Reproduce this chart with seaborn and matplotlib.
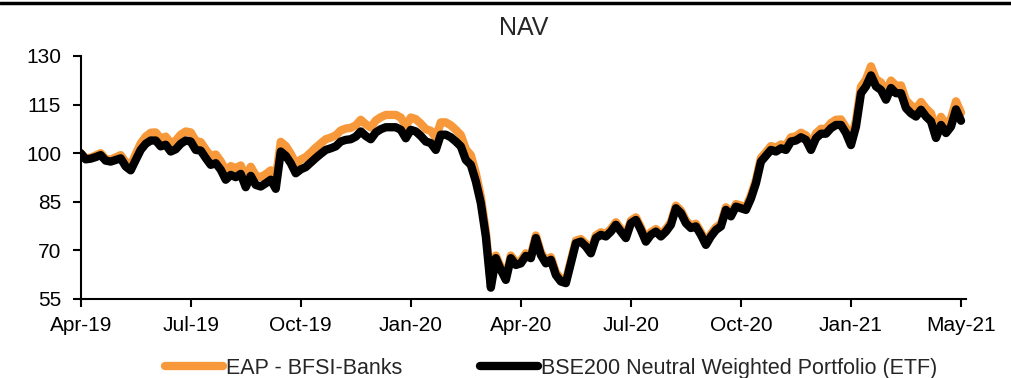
import numpy as np
import pandas as pd
import matplotlib
matplotlib.use("Agg")
import matplotlib.pyplot as plt
from matplotlib.lines import Line2D
import seaborn as sns

# === data (trading-day index) ===
tick_labels = ["Apr-19", "Jul-19", "Oct-19", "Jan-20", "Apr-20",
               "Jul-20", "Oct-20", "Jan-21", "May-21"]

eap_banks = [
    100.0, 98.4, 98.6, 99.3, 100.0, 98.2, 98.0, 98.7, 99.4, 97.2,
    96.2, 99.7, 103.0, 105.1, 106.3, 106.4, 104.5, 105.1, 103.1, 103.9,
    105.7, 106.7, 106.4, 103.8, 103.4, 101.1, 99.1, 99.6, 97.5, 94.6,
    96.0, 95.4, 96.2, 92.5, 95.8, 93.1, 92.6, 93.5, 94.7, 92.0,
    103.5, 102.2, 99.8, 96.7, 98.0, 98.8, 100.2, 101.7, 103.0, 104.3,
    104.8, 105.5, 107.0, 107.6, 107.8, 108.6, 110.3, 108.9, 107.9, 110.1,
    111.1, 111.8, 111.8, 111.8, 111.0, 108.4, 111.0, 110.5, 109.1, 107.4,
    106.9, 104.8, 109.5, 109.5, 108.6, 107.2, 105.6, 101.2, 99.4, 93.8,
    86.6, 75.8, 59.5, 68.4, 64.8, 61.7, 68.4, 66.3, 66.8, 69.1,
    68.4, 74.6, 69.4, 66.8, 67.9, 63.2, 61.2, 60.7, 66.8, 73.0,
    73.5, 72.0, 69.9, 74.6, 75.6, 75.1, 76.6, 78.7, 76.6, 74.6,
    79.2, 80.2, 77.1, 73.5, 75.6, 76.6, 75.1, 76.6, 78.7, 83.8,
    82.3, 79.2, 77.7, 78.2, 75.6, 72.5, 75.1, 77.1, 78.2, 83.3,
    81.3, 84.3, 83.8, 83.3, 87.0, 91.7, 98.5, 100.3, 102.2, 101.7,
    102.7, 102.3, 104.9, 105.2, 106.3, 105.5, 102.4, 106.1, 107.5, 107.5,
    109.3, 110.3, 110.4, 107.9, 104.3, 110.0, 120.5, 122.7, 126.8, 122.8,
    121.8, 118.8, 122.4, 120.8, 120.9, 116.3, 114.7, 113.7, 115.8, 113.8,
    112.3, 107.2, 111.2, 108.7, 110.7, 116.0, 112.5,
]

bse200_etf = [
    100.0, 98.1, 98.3, 98.8, 99.4, 97.7, 97.4, 97.9, 98.4, 95.9,
    94.7, 97.9, 101.0, 102.9, 103.9, 103.9, 102.1, 102.6, 100.5, 101.2,
    102.9, 103.9, 103.6, 101.0, 100.8, 98.5, 96.4, 96.9, 94.9, 91.8,
    93.3, 92.6, 93.6, 89.5, 93.0, 90.2, 89.7, 90.7, 91.8, 89.0,
    100.5, 99.2, 96.9, 93.8, 95.0, 95.7, 97.1, 98.5, 99.8, 101.0,
    101.5, 102.1, 103.6, 104.1, 104.3, 105.1, 106.7, 105.3, 104.3, 106.4,
    107.4, 108.0, 108.0, 108.0, 107.2, 104.6, 107.2, 106.7, 105.3, 103.6,
    103.1, 101.0, 105.7, 105.7, 104.9, 103.6, 102.1, 97.9, 96.4, 91.3,
    84.6, 74.3, 58.5, 67.6, 64.0, 60.9, 67.6, 65.5, 66.0, 68.3,
    67.6, 73.8, 68.6, 66.0, 67.1, 62.4, 60.4, 59.9, 66.0, 72.2,
    72.7, 71.2, 69.1, 73.8, 74.8, 74.3, 75.8, 77.9, 75.8, 73.8,
    78.4, 79.4, 76.3, 72.7, 74.8, 75.8, 74.3, 75.8, 77.9, 83.0,
    81.5, 78.4, 76.9, 77.4, 74.8, 71.7, 74.3, 76.3, 77.4, 82.5,
    80.5, 83.5, 83.0, 82.5, 86.0, 90.7, 97.4, 99.2, 101.0, 100.5,
    101.5, 101.0, 103.6, 103.9, 104.9, 104.1, 101.0, 104.6, 106.0, 106.0,
    107.7, 108.7, 108.7, 106.2, 102.5, 108.2, 118.5, 120.6, 124.0, 120.6,
    119.5, 116.5, 120.1, 118.5, 118.5, 113.9, 112.3, 111.3, 113.4, 111.3,
    109.8, 104.7, 108.7, 106.2, 108.2, 113.5, 110.0,
]

series_names = ["EAP - BFSI-Banks", "BSE200 Neutral Weighted Portfolio (ETF)"]
colors = ["#F7993A", "#000000"]

df = pd.concat([
    pd.DataFrame({"day": np.arange(len(eap_banks)), "nav": eap_banks, "series": series_names[0]}),
    pd.DataFrame({"day": np.arange(len(bse200_etf)), "nav": bse200_etf, "series": series_names[1]}),
])

sns.set_style("ticks")
plt.rcParams["font.family"] = ["Liberation Sans", "DejaVu Sans"]

fig = plt.figure(figsize=(10.11, 3.78), dpi=100)
ax = fig.add_axes([0.0798, 0.209, 0.8757, 0.643])

sns.lineplot(data=df, x="day", y="nav", hue="series", hue_order=series_names,
             palette=colors, linewidth=6.0, ax=ax, legend=True)
for ln in ax.get_lines():
    ln.set_solid_capstyle("round")
    ln.set_solid_joinstyle("round")

# 坐标轴
n = len(bse200_etf)
step = (n - 1) // (len(tick_labels) - 1)
ax.set_xlim(0, n)
ax.set_ylim(55, 130)
ax.set_yticks(np.arange(55, 131, 15))
ax.set_xticks(np.arange(0, n, step))
ax.set_xticklabels(tick_labels)
ax.set_xlabel("")
ax.set_ylabel("")
sns.despine(ax=ax)
for s in ["left", "bottom"]:
    ax.spines[s].set_linewidth(1.5)
    ax.spines[s].set_color("black")
ax.tick_params(axis="both", length=6, width=1.5, color="black", labelsize=15, labelcolor="black")
ax.tick_params(axis="y", pad=8)
ax.tick_params(axis="x", pad=6)

ax.set_title("NAV", fontsize=18, pad=15)

# 图例
handles = [Line2D([], [], color=c, lw=6.0, solid_capstyle="round") for c in colors]
ax.legend(handles, series_names, loc="center", bbox_to_anchor=(0.545, 0.026),
          bbox_transform=fig.transFigure, ncol=2, frameon=False, fontsize=15.5,
          handlelength=2.7, handletextpad=0.15, columnspacing=3.6)

# top rule
fig.add_artist(Line2D([0, 1], [0.993, 0.993], transform=fig.transFigure, color="black", lw=2.5))

fig.savefig("out.png", dpi=100)
